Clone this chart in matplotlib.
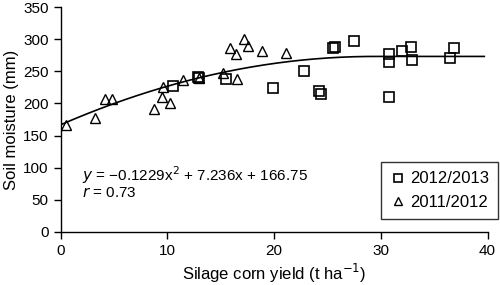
import numpy as np
import matplotlib.pyplot as plt

plt.rcParams['font.family'] = ['Liberation Sans', 'DejaVu Sans']

# 2012/2013 (squares)
yield_1213 = [10.5, 12.9, 13.0, 15.5, 19.9, 22.8, 24.2, 24.4, 25.5, 25.7, 27.5,
              30.8, 30.8, 30.8, 32.0, 32.8, 32.9, 36.5, 36.9]
moist_1213 = [228, 242, 240, 238, 224, 251, 219, 215, 286, 288, 298,
              277, 264, 210, 281, 288, 268, 271, 287]

# 2011/2012 (triangles)
yield_1112 = [0.5, 3.2, 4.2, 4.8, 8.75, 9.5, 9.6, 10.3, 11.5, 13.0, 15.2,
              16.5, 15.9, 16.4, 17.2, 17.6, 18.9, 21.1]
moist_1112 = [167, 178, 207, 207, 191, 210, 225, 200, 236, 240, 248,
              238, 287, 277, 301, 289, 282, 279]

# fitted curve: y = -0.1229x^2 + 7.236x + 166.75 (levels off at the vertex)
a, b, c = -0.1229, 7.236, 166.75
xfit = np.linspace(0, 39.7, 300)
xv = -b / (2 * a)
yfit = a * np.minimum(xfit, xv) ** 2 + b * np.minimum(xfit, xv) + c

fig = plt.figure(figsize=(5, 2.85), dpi=100)
ax = fig.add_axes([0.121, 0.186, 0.854, 0.789])

ax.plot(xfit, yfit, color='black', lw=1.2, zorder=1)
ax.plot(yield_1213, moist_1213, ls='none', marker='s', ms=6.8, mfc='none',
        mec='black', mew=1.2, label='2012/2013', zorder=2)
ax.plot(yield_1112, moist_1112, ls='none', marker='^', ms=7.3, mfc='none',
        mec='black', mew=1.0, label='2011/2012', zorder=2)

ax.set_xlim(0, 40)
ax.set_ylim(0, 350)
ax.set_xticks(range(0, 41, 10))
ax.set_yticks(range(0, 351, 50))
ax.tick_params(direction='out', length=5, width=1, labelsize=11)
for s in ['top', 'right']:
    ax.spines[s].set_visible(False)
for s in ['left', 'bottom']:
    ax.spines[s].set_linewidth(1)

ax.set_xlabel('Silage corn yield (t ha$^{-1}$)', fontsize=12, labelpad=3)
ax.set_ylabel('Soil moisture (mm)', fontsize=12, labelpad=3)

ax.text(2.0, 89, '$y$ = \u22120.1229x$^2$ + 7.236x + 166.75', fontsize=11, va='center')
ax.text(2.0, 61, '$r$ = 0.73', fontsize=11, va='center')

leg = ax.legend(loc='lower right', bbox_to_anchor=(1.025, 0.058), borderaxespad=0,
                frameon=True, fancybox=False, edgecolor='black', fontsize=12,
                handletextpad=0.3, borderpad=0.55, labelspacing=0.5,
                handlelength=0.9, markerscale=0.85)
leg.get_frame().set_linewidth(1)

fig.savefig('out.png', dpi=100)
